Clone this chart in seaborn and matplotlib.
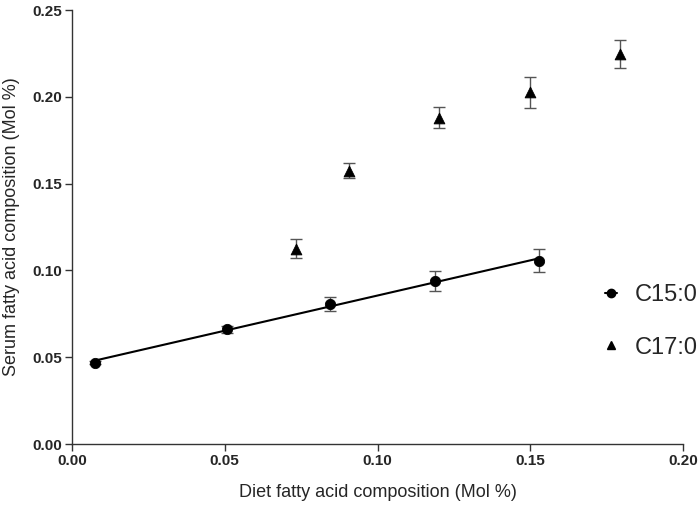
import matplotlib
matplotlib.use('Agg')
import matplotlib.pyplot as plt
from matplotlib.lines import Line2D
import seaborn as sns
import pandas as pd

# C15:0 diet vs serum composition
c15_x = [0.0074, 0.0507, 0.0846, 0.1188, 0.1528]
c15_y = [0.0468, 0.0662, 0.0805, 0.0939, 0.1055]
c15_err = [0.0010, 0.0020, 0.0040, 0.0060, 0.0067]

# C17:0 diet vs serum composition
c17_x = [0.0733, 0.0908, 0.1202, 0.1499, 0.1794]
c17_y = [0.1126, 0.1575, 0.1880, 0.2025, 0.2245]
c17_err = [0.0055, 0.0045, 0.0060, 0.0089, 0.0081]

x_ticks = [0.00, 0.05, 0.10, 0.15, 0.20]
y_ticks = [0.00, 0.05, 0.10, 0.15, 0.20, 0.25]

sns.set_style('ticks')
plt.rcParams['font.family'] = ['Liberation Sans', 'DejaVu Sans']

df15 = pd.DataFrame({'diet': c15_x, 'serum': c15_y})
df17 = pd.DataFrame({'diet': c17_x, 'serum': c17_y})

fig = plt.figure(figsize=(7, 5.07), dpi=100)
ax = fig.add_axes([72 / 700, 1 - 444 / 507, 611 / 700, 434 / 507])

ax.errorbar(c15_x, c15_y, yerr=c15_err, fmt='none', ecolor='#555555',
            elinewidth=1, capsize=4, capthick=1, zorder=2)
ax.errorbar(c17_x, c17_y, yerr=c17_err, fmt='none', ecolor='#555555',
            elinewidth=1, capsize=4, capthick=1, zorder=2)

sns.regplot(data=df15, x='diet', y='serum', ax=ax, scatter=False, ci=None,
            line_kws={'color': 'black', 'lw': 1.5, 'zorder': 3})
sns.scatterplot(data=df15, x='diet', y='serum', ax=ax, marker='o', s=55,
                color='black', edgecolor='black', zorder=4)
sns.scatterplot(data=df17, x='diet', y='serum', ax=ax, marker='^', s=60,
                color='black', edgecolor='black', zorder=4)

ax.set_xlim(0, 0.20)
ax.set_ylim(0, 0.25)
ax.set_xticks(x_ticks)
ax.set_yticks(y_ticks)
ax.set_xticklabels([f'{t:.2f}' for t in x_ticks], fontweight='bold', fontsize=11)
ax.set_yticklabels([f'{t:.2f}' for t in y_ticks], fontweight='bold', fontsize=11)
ax.tick_params(direction='out', length=5, width=1, color='#333333', pad=2)
for s in ['left', 'bottom']:
    ax.spines[s].set_color('#333333')
    ax.spines[s].set_linewidth(1)
sns.despine(ax=ax)

ax.set_xlabel('Diet fatty acid composition (Mol %)', fontsize=13, labelpad=12)
ax.set_ylabel('Serum fatty acid composition (Mol %)', fontsize=13, labelpad=9)

handles = [
    Line2D([], [], color='black', marker='o', markersize=6, lw=1.5),
    Line2D([], [], color='black', marker='^', markersize=6, lw=0),
]
ax.legend(handles, ['C15:0', 'C17:0'], loc='center left',
          bbox_to_anchor=(0.872, 0.283), frameon=False, fontsize=17,
          borderpad=0, borderaxespad=0, handlelength=0.5,
          handletextpad=0.75, labelspacing=1.3)

fig.savefig('out.png', dpi=100)
